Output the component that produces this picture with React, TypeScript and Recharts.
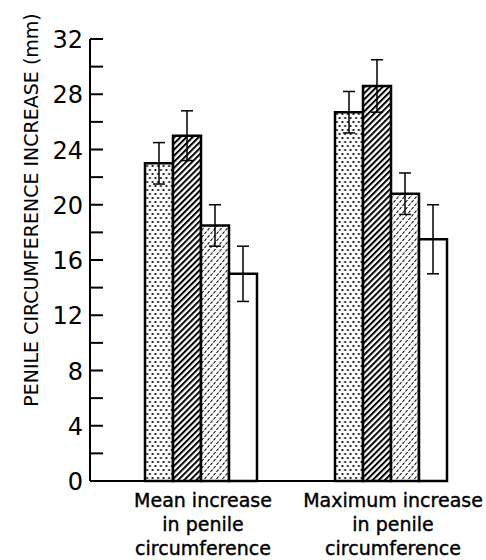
import { BarChart, Bar, XAxis, YAxis, ErrorBar } from 'recharts'

const categories = [
    'Mean increase in penile circumference',
    'Maximum increase in penile circumference',
]
const categoryLines = [
    ['Mean increase', 'in penile', 'circumference'],
    ['Maximum increase', 'in penile', 'circumference'],
]

const dottedValues = [23, 26.7]
const dottedErrors = [1.5, 1.5]
const hatchedValues = [25, 28.6]
const hatchedErrors = [1.8, 1.9]
const lightValues = [18.5, 20.8]
const lightErrors = [1.5, 1.5]
const openValues = [15, 17.5]
const openErrors = [2, 2.5]

const yTicks = [0, 2, 4, 6, 8, 10, 12, 14, 16, 18, 20, 22, 24, 26, 28, 30, 32]
const yLabelled = [0, 4, 8, 12, 16, 20, 24, 28, 32]

const data = categories.map((name, i) => ({
    name,
    dotted: dottedValues[i],
    dottedErr: dottedErrors[i],
    hatched: hatchedValues[i],
    hatchedErr: hatchedErrors[i],
    light: lightValues[i],
    lightErr: lightErrors[i],
    open: openValues[i],
    openErr: openErrors[i],
}))

const font = '"DejaVu Sans", sans-serif'

function YTick(props: any) {
    const { x, y, payload } = props
    const v = payload.value
    return (
        <g>
            <line x1={x} x2={x + 13} y1={y} y2={y} stroke="#000" strokeWidth={2} />
            {yLabelled.includes(v) && (
                <text x={x - 7} y={y + 9} textAnchor="end" fontFamily={font} fontSize={24} fill="#000">
                    {v}
                </text>
            )}
        </g>
    )
}

function XTick(props: any) {
    const { x, y, index } = props
    const lines = categoryLines[index] || []
    return (
        <g>
            {lines.map((t, i) => (
                <text key={i} x={x + 3} y={y + 26 + i * 24} textAnchor="middle" fontFamily={font} fontSize={19}
                    fill="#000" stroke="#000" strokeWidth={0.4}>
                    {t}
                </text>
            ))}
        </g>
    )
}

function YLabel() {
    return (
        <text x={38} y={210} transform="rotate(-90, 38, 210)" textAnchor="middle" fontFamily={font} fontSize={19} fill="#000">
            PENILE CIRCUMFERENCE INCREASE (mm)
        </text>
    )
}

export default function App() {
    return (
        <div style={{ position: 'absolute', left: 0, top: 0, background: '#fff' }}>
            <BarChart
                width={486}
                height={560}
                data={data}
                margin={{ top: 39, right: 41, left: 0, bottom: 0 }}
                barCategoryGap={40}
                barGap={0}
            >
                <defs>
                    <pattern id="dots" width="5.5" height="8" patternUnits="userSpaceOnUse">
                        <rect width="5.5" height="8" fill="#fff" />
                        <circle cx="1.4" cy="2" r="1.1" fill="#000" />
                        <circle cx="4.1" cy="6" r="1.1" fill="#000" />
                    </pattern>
                    <pattern id="hatch" width="4.3" height="4.3" patternUnits="userSpaceOnUse" patternTransform="rotate(45)">
                        <rect width="4.3" height="4.3" fill="#fff" />
                        <rect width="2" height="4.3" fill="#000" />
                    </pattern>
                    <pattern id="dash" width="6" height="7" patternUnits="userSpaceOnUse">
                        <rect width="6" height="7" fill="#fff" />
                        <line x1="0.5" y1="3" x2="2.5" y2="0.5" stroke="#000" strokeWidth="1.1" />
                        <line x1="3.5" y1="6.5" x2="5.5" y2="4" stroke="#000" strokeWidth="1.1" />
                    </pattern>
                </defs>
                <XAxis
                    dataKey="name"
                    height={79}
                    padding={{ left: 15, right: -40 }}
                    axisLine={{ stroke: '#000', strokeWidth: 2 }}
                    tickLine={false}
                    tickSize={0}
                    tickMargin={0}
                    tick={<XTick />}
                    interval={0}
                />
                <YAxis
                    width={90}
                    domain={[0, 32]}
                    ticks={yTicks}
                    interval={0}
                    axisLine={{ stroke: '#000', strokeWidth: 2 }}
                    tickLine={false}
                    tickSize={0}
                    tickMargin={0}
                    tick={<YTick />}
                    label={<YLabel />}
                />
                <Bar dataKey="dotted" fill="url(#dots)" stroke="#000" strokeWidth={2.5} isAnimationActive={false}>
                    <ErrorBar dataKey="dottedErr" width={6} stroke="#000" strokeWidth={1.5} />
                </Bar>
                <Bar dataKey="hatched" fill="url(#hatch)" stroke="#000" strokeWidth={2.5} isAnimationActive={false}>
                    <ErrorBar dataKey="hatchedErr" width={6} stroke="#000" strokeWidth={1.5} />
                </Bar>
                <Bar dataKey="light" fill="url(#dash)" stroke="#000" strokeWidth={2.5} isAnimationActive={false}>
                    <ErrorBar dataKey="lightErr" width={6} stroke="#000" strokeWidth={1.5} />
                </Bar>
                <Bar dataKey="open" fill="#fff" stroke="#000" strokeWidth={2.5} isAnimationActive={false}>
                    <ErrorBar dataKey="openErr" width={6} stroke="#000" strokeWidth={1.5} />
                </Bar>
            </BarChart>
        </div>
    )
}
